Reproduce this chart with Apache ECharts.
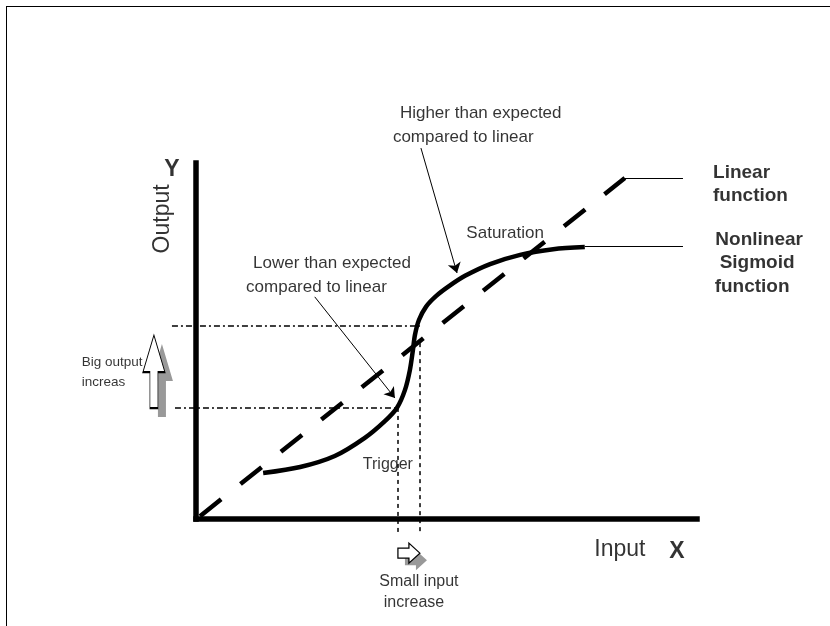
<!DOCTYPE html>
<html>
<head>
<meta charset="utf-8">
<script src="https://cdn.jsdelivr.net/npm/echarts@6.0.0/dist/echarts.min.js"></script>
<style>
  html, body { margin: 0; padding: 0; background: #fff; }
  #wrap { position: relative; width: 830px; height: 626px; overflow: hidden; }
  #frame { position: absolute; left: 6px; top: 6px; right: -10px; bottom: -10px;
           border-left: 1.5px solid #000; border-top: 1.5px solid #000;
           box-shadow: -1px -1px 0 #bbb inset; }
  #chart { position: absolute; left: 0; top: 0; width: 830px; height: 626px; }
</style>
</head>
<body>
<div id="wrap">
  <div id="frame"></div>
  <div id="chart"></div>
</div>
<script>
// axes run 0..100 on both X (input) and Y (output)
const linearPts = [[0.8, 0.8], [85.6, 95.8]]
const sigmoidPts = [
  [13.4, 12.9], [20.8, 14.6], [27.7, 17.7], [33.7, 22.8], [37.7, 27.5],
  [40.1, 31.2], [41.7, 36.2], [42.7, 41.9], [43.3, 47.5], [43.7, 51.7],
  [44.5, 55.9], [45.9, 59.6], [47.9, 62.6], [50.5, 65.4], [53.7, 68.3],
  [58.7, 71.6], [64.7, 74.2], [71.3, 75.8], [77.6, 76.4],
]
// leader lines to the legend texts
const linearLeader = [[85.6, 95.8], [97.2, 95.8]]
const sigmoidLeader = [[77.6, 76.6], [97.2, 76.6]]
// dash-dot guides at trigger and jump
const guideHigh = [[-4.8, 54.2], [44.7, 54.2]]
const guideLow = [[-4.2, 31.2], [40.3, 31.2]]
const guideTrigger = [[40.3, 31.2], [40.3, -4.2]]
const guideJump = [[44.7, 49.4], [44.7, -4.2]]
// callout arrows: [from, to]
const calloutLower = [[23.7, 62.4], [39.7, 34.0]]
const calloutHigher = [[44.9, 104.2], [52.1, 69.1]]
// block arrows (centre positions)
const bigArrowAt = [-8.4, 41.4]
const bigShadowAt = [-6.8, 38.9]
const smallArrowAt = [42.5, -9.6]
const smallShadowAt = [43.9, -11.6]
// text: [x, y, text, kind]
const texts = [
  [40.7, 114.0, 'Higher than expected', 'left'],
  [39.3, 107.3, 'compared to linear', 'left'],
  [11.4, 71.9, 'Lower than expected', 'left'],
  [10.0, 65.2, 'compared to linear', 'left'],
  [61.7, 80.3, 'Saturation', 'center'],
  [38.3, 15.2, 'Trigger', 'small'],
  [44.5, -17.7, 'Small input', 'small'],
  [43.5, -23.6, 'increase', 'small'],
  [-22.8, 44.1, 'Big output', 'tiny'],
  [-22.8, 38.5, 'increas', 'tiny'],
  [-6.6, 84.3, 'Output', 'axisRot'],
  [-4.8, 98.0, 'Y', 'axisBold'],
  [84.6, -8.7, 'Input', 'axis'],
  [96.0, -9.3, 'X', 'axisBold'],
  [103.2, 97.2, 'Linear', 'boldLeft'],
  [103.2, 90.7, 'function', 'boldLeft'],
  [112.4, 78.4, 'Nonlinear', 'bold'],
  [112.0, 71.9, 'Sigmoid', 'bold'],
  [111.0, 65.2, 'function', 'bold'],
]

const FONT = '"Liberation Sans", Arial, sans-serif'
const STYLE = {
  left: { fontSize: 17, align: 'left' },
  center: { fontSize: 17, align: 'center' },
  small: { fontSize: 16, align: 'center' },
  tiny: { fontSize: 13.5, align: 'left' },
  axis: { fontSize: 23, align: 'center' },
  axisRot: { fontSize: 23, align: 'center', rotate: 90 },
  axisBold: { fontSize: 23, align: 'center', fontWeight: 'bold' },
  boldLeft: { fontSize: 19, align: 'left', fontWeight: 'bold' },
  bold: { fontSize: 19, align: 'center', fontWeight: 'bold' },
}

const UP_ARROW = 'path://M11 0 L22 37 L15 37 L15 73 L7 73 L7 37 L0 37 Z'
const RIGHT_ARROW = 'path://M0 5 L11 5 L11 0 L22 10 L11 20 L11 15 L0 15 Z'

// straight segments, drawn with the lines series so nothing gets clipped at the grid
function segments(list, width, type, arrow) {
  return {
    type: 'lines', coordinateSystem: 'cartesian2d', clip: false, silent: true,
    symbol: arrow ? ['none', 'arrow'] : 'none', symbolSize: arrow ? [7, 10] : 0,
    lineStyle: { color: '#000', width, type: type || 'solid', opacity: 1 },
    data: list.map((coords) => ({ coords })),
  }
}

function block(at, path, size, fill, border) {
  return {
    type: 'scatter', clip: false, silent: true, symbol: path, symbolSize: size,
    data: [at],
    itemStyle: { color: fill, borderColor: border, borderWidth: border ? 1.2 : 0, opacity: 1 },
  }
}

const chart = echarts.init(document.getElementById('chart'), null, { renderer: 'canvas' })

chart.setOption({
  animation: false,
  textStyle: { fontFamily: FONT },
  grid: { left: 196, right: 133, top: 163, bottom: 107 },
  xAxis: {
    type: 'value', min: 0, max: 100,
    axisLine: { show: true, lineStyle: { color: '#000', width: 5.5, cap: 'square' } },
    axisTick: { show: false }, axisLabel: { show: false }, splitLine: { show: false },
  },
  yAxis: {
    type: 'value', min: 0, max: 100,
    axisLine: { show: true, lineStyle: { color: '#000', width: 5.5, cap: 'square' } },
    axisTick: { show: false }, axisLabel: { show: false }, splitLine: { show: false },
  },
  series: [
    segments([guideHigh, guideLow], 1.5, [6, 3, 2, 3]),
    segments([guideTrigger, guideJump], 1.5, [4, 4]),
    segments([linearLeader, sigmoidLeader], 1.2),
    segments([calloutLower, calloutHigher], 1, null, true),
    {
      type: 'line', data: linearPts, symbol: 'none', clip: false, silent: true,
      lineStyle: { color: '#000', width: 4.5, type: [27, 24.7] },
    },
    {
      type: 'line', data: sigmoidPts, symbol: 'none', clip: false, silent: true, smooth: 0.3,
      lineStyle: { color: '#000', width: 4.5 },
    },
    block(bigShadowAt, UP_ARROW, [22, 73], '#999', null),
    block(bigArrowAt, UP_ARROW, [22, 73], '#fff', '#000'),
    block(smallShadowAt, RIGHT_ARROW, [22, 20], '#999', null),
    block(smallArrowAt, RIGHT_ARROW, [22, 20], '#fff', '#000'),
    {
      type: 'scatter', clip: false, silent: true, symbolSize: 0,
      data: texts.map(([x, y, t, kind]) => ({
        value: [x, y],
        label: {
          show: true, position: 'inside', formatter: t, color: '#000',
          fontFamily: FONT, verticalAlign: 'middle', ...STYLE[kind],
        },
      })),
    },
  ],
})
</script>
</body>
</html>
